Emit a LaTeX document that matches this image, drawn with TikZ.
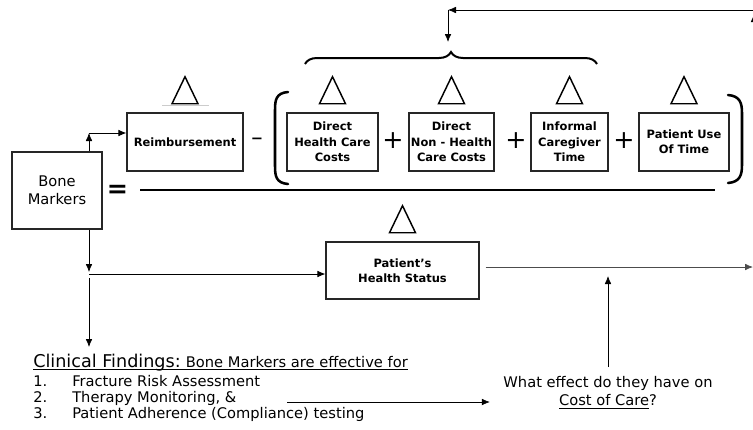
\documentclass[tikz,border=0pt]{standalone}
\usepackage{fontspec}
\setmainfont{DejaVu Sans}
\usetikzlibrary{arrows.meta,decorations.pathreplacing}
\newcommand\undl[1]{\setbox0\hbox{#1}\leavevmode\rlap{\vrule width\wd0 height-1.8pt depth2.5pt}\box0}

\begin{document}
\begin{tikzpicture}[x=0.75pt,y=-0.75pt,
  every node/.style={inner sep=0pt},
  cbox/.style 2 args={draw=black!85, line width=0.9pt, align=center,
    minimum width=#1*0.75pt, minimum height=#2*0.75pt,
    font=\bfseries\fontsize{8.6}{11.5}\selectfont},
  tri/.style={draw=black, line width=1.1pt, line join=miter},
  paren/.style={line width=1.9pt, line cap=round},
  op/.style={font=\fontsize{19}{19}\selectfont},
  arr/.style={-{Latex[length=6pt,width=5pt]}, line width=0.6pt},
  txt/.style={anchor=base west, font=\fontsize{11}{12}\selectfont}]
 	\useasboundingbox (0,0) rectangle (753,429);
 	% cost boxes
 	\node [cbox={90}{77}, font=\fontsize{11}{13.5}\selectfont] (bone) at (57,190.5) {Bone\\Markers};
 	\node [cbox={116}{58}] (reimb) at (185,142) {Reimbursement};
 	\node [cbox={91}{58}] (dhcc) at (332.5,142) {Direct\\Health Care\\Costs};
 	\node [cbox={85}{58}] (dnhc) at (451.5,142) {Direct\\Non - Health\\Care Costs};
 	\node [cbox={77}{58}] (icgt) at (569.5,142) {Informal\\Caregiver\\Time};
 	\node [cbox={90}{58}] (puot) at (684,142) {Patient Use\\Of Time};
 	\node [cbox={153}{57}] (phs) at (402.5,270.5) {Patient’s\\Health Status};
 	% change triangles
 	\foreach \n in {reimb,dhcc,dnhc,icgt,puot,phs}
 	  \draw [tri] ([yshift=6.5pt]\n.north) ++(-13,0) -- ++(13,-27) -- ++(13,27) -- cycle;
 	\draw [gray!40, line width=0.6pt] (162,105) -- (209,105);
 	% operators
 	\node [op] (eq) at (117.5,191) {\textbf{=}};
 	\node [font=\bfseries\fontsize{11}{11}\selectfont] (minus) at (257,141) {−};
 	\node [op] (plusa) at (393,141) {+};
 	\node [op] (plusb) at (516,141) {+};
 	\node [op] (plusc) at (624,141) {+};
 	\draw [paren] (288,92) .. controls (276,93) and (275,100) .. (275,110) -- (275,166) .. controls (275,176) and (276,183) .. (288,184);
 	\draw [paren] (728,95) .. controls (740,96) and (742,103) .. (742,113) -- (742,165) .. controls (742,175) and (740,182) .. (728,183);
 	\draw [line width=2.2pt] (140,190) -- (715,190);
 	\draw [line width=1.5pt, decorate, decoration={brace, amplitude=9pt}] (305,64) -- (597,64);
 	% feedback from the right
 	\coordinate (fbin) at (760,10);
 	\coordinate (fbcorner) at (448,10);
 	\coordinate (bracetip) at (448,42);
 	\draw [arr] (fbin) -- (fbcorner);
 	\draw [arr] (fbcorner) -- (bracetip);
 	\coordinate (offa) at (754,40);
 	\coordinate (offb) at (754,14);
 	\draw [arr] (offa) -- (offb);
 	% bone marker paths
 	\coordinate (up) at (89,133);
 	\draw [arr] (bone.north -| up) -- (up);
 	\draw [arr] (up) -- (reimb.west |- up);
 	\coordinate (splita) at (89,272);
 	\coordinate (split) at (89,274);
 	\coordinate (splitb) at (89,278);
 	\coordinate (fnd) at (89,347);
 	\draw [arr] (bone.south -| splita) -- (splita);
 	\draw [arr] (split) -- (phs.west |- split);
 	\draw [arr] (splitb) -- (fnd);
 	\coordinate (outcome) at (753,267);
 	\draw [arr, black!70] ([shift={(6,-3.5)}]phs.east) -- (outcome);
 	% findings and question
 	\node [txt, font=\fontsize{13.2}{14}\selectfont] (cf) at (33,367) {\undl{Clinical Findings:}};
 	\node [txt] (cfb) at (cf.base east) {\undl{\ Bone Markers are effective for}};
 	\node [txt] (na) at (33,386) {1.};
 	\node [txt] (ia) at (72,386) {Fracture Risk Assessment};
 	\node [txt] (nb) at (33,402) {2.};
 	\node [txt] (ib) at (72,402) {Therapy Monitoring, \&};
 	\node [txt] (nc) at (33,418) {3.};
 	\node [txt] (ic) at (72,418) {Patient Adherence (Compliance) testing};
 	\node [align=center, font=\fontsize{11}{13.5}\selectfont] (q) at (608,393) {What effect do they have on\\\undl{Cost of Care}?};
 	\coordinate (cfout) at (287,402);
 	\draw [arr, line width=0.5pt] (cfout) -- ([xshift=-10pt]q.west |- cfout);
 	\draw [arr] ([yshift=7pt]q.north) -- (q.north |- 0,276);
\end{tikzpicture}
\end{document}
